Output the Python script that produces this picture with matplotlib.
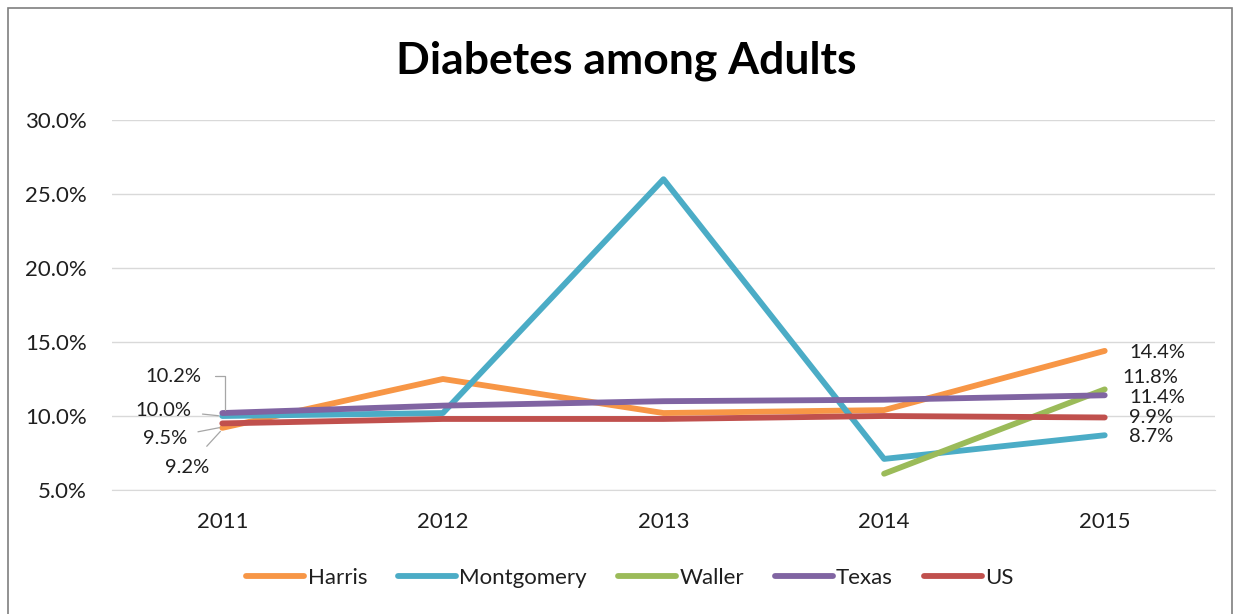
import matplotlib
matplotlib.use("Agg")
import matplotlib.pyplot as plt
from matplotlib.patches import Rectangle
from matplotlib.ticker import FuncFormatter

plt.rcParams["font.family"] = ["Lato", "DejaVu Sans"]

years = ["2011", "2012", "2013", "2014", "2015"]
harris = [9.2, 12.5, 10.2, 10.4, 14.4]
montgomery = [10.0, 10.2, 26.0, 7.1, 8.7]
waller = [None, None, None, 6.1, 11.8]
texas = [10.2, 10.7, 11.0, 11.1, 11.4]
us = [9.5, 9.8, 9.8, 10.0, 9.9]

series = [
    ("Harris", harris, "#F79646"),
    ("Montgomery", montgomery, "#4BACC6"),
    ("Waller", waller, "#9BBB59"),
    ("Texas", texas, "#8064A2"),
    ("US", us, "#C0504D"),
]

TXT = "#1f1f1f"
W, H = 1241, 614
fig = plt.figure(figsize=(W / 100, H / 100), dpi=100)
fig.patches.append(Rectangle((8 / W, -0.01), 1224 / W, (H - 8) / H + 0.01,
                             transform=fig.transFigure, fill=False,
                             edgecolor="#7f7f7f", linewidth=1.2))

ax = fig.add_axes([112 / W, 124 / H, 1103 / W, 370 / H])
x = list(range(len(years)))
for name, vals, col in series:
    pts = [(i, v) for i, v in zip(x, vals) if v is not None]
    ax.plot([p[0] for p in pts], [p[1] for p in pts], color=col, lw=4.2,
            label=name, solid_capstyle="round", solid_joinstyle="round")

ax.set_xlim(-0.5, len(years) - 0.5)
ax.set_ylim(5, 30)
ax.set_yticks([5, 10, 15, 20, 25, 30])
ax.yaxis.set_major_formatter(FuncFormatter(lambda v, p: f"{v:.1f}%"))
ax.set_xticks(x)
ax.set_xticklabels(years)
ax.grid(axis="y", color="#d9d9d9", lw=1)
ax.set_axisbelow(True)
for s in ["top", "right", "left"]:
    ax.spines[s].set_visible(False)
ax.spines["bottom"].set_color("#d9d9d9")
ax.tick_params(length=0, labelsize=16, colors=TXT, pad=18)
ax.tick_params(axis="x", pad=16)

# end-point labels for 2015
right_labels = [(harris[4], 14.32, 0.11), (waller[4], 12.57, 0.08),
                (texas[4], 11.25, 0.11), (us[4], 9.93, 0.11), (montgomery[4], 8.6, 0.11)]
for v, ypos, dx in right_labels:
    ax.annotate(f"{v:.1f}%", xy=(4, v), xytext=(4 + dx, ypos), fontsize=14.5,
                color=TXT, va="center", ha="left", annotation_clip=False)

# start-point labels for 2011, pulled out with leader lines
lc = dict(arrowstyle="-", color="#a6a6a6", lw=0.9)
ax.annotate(f"{texas[0]:.1f}%", xy=(0.01, texas[0]), xytext=(-0.095, 12.7),
            fontsize=14.5, color=TXT, ha="right", va="center",
            arrowprops=dict(lc, shrinkA=8,
                            connectionstyle="angle,angleA=0,angleB=90,rad=0"))
ax.annotate(f"{montgomery[0]:.1f}%", xy=(-0.005, montgomery[0]), xytext=(-0.14, 10.4),
            fontsize=14.5, color=TXT, ha="right", va="center",
            arrowprops=dict(lc, shrinkA=6))
ax.annotate(f"{us[0]:.1f}%", xy=(0.0, us[0] - 0.25), xytext=(-0.16, 8.5),
            fontsize=14.5, color=TXT, ha="right", va="center",
            arrowprops=dict(lc, shrinkA=6))
ax.annotate(f"{harris[0]:.1f}%", xy=(0.0, harris[0] - 0.1), xytext=(-0.16, 6.5),
            fontsize=14.5, color=TXT, ha="center", va="center",
            arrowprops=dict(lc, shrinkA=10))

fig.text(626 / W, 1 - 61 / H, "Diabetes among Adults", ha="center", va="center",
         fontsize=32, fontweight="bold", color="black")

fig.legend(loc="center", bbox_to_anchor=(630 / W, 1 - 578 / H), ncol=5,
           frameon=False, fontsize=16, handlelength=2.6, handletextpad=0.15,
           columnspacing=1.4, labelcolor=TXT)

fig.savefig("out.png", dpi=100)
